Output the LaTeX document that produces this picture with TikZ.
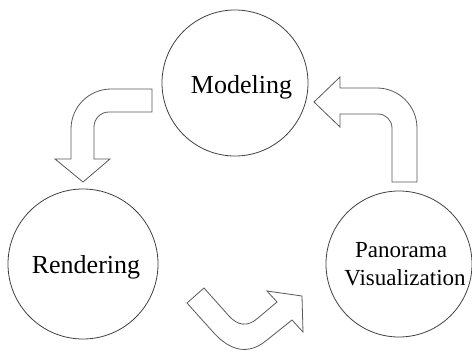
\documentclass[tikz,border=0pt]{standalone}
\usepackage{fontspec}
\setmainfont{Liberation Serif}
\begin{document}
\begin{tikzpicture}[x=1pt,y=-1pt,
  stage/.style={circle,draw=black!75,line width=0.8pt,inner sep=0pt},
  lbl/.style={anchor=base,inner sep=0pt,text=black},
  bigarrow/.style={draw=black!65,line width=0.8pt,fill=white,line join=miter}]
\useasboundingbox (0,0) rectangle (472,354);
% stages
\node[stage,minimum size=146pt] (model) at (235,83) {};
\node[stage,minimum size=150pt] (render) at (83,264) {};
\node[stage,minimum size=146pt] (pano) at (399,264) {};
\node[lbl,font=\fontsize{26}{30}\selectfont] (modelT) at (241.5,93) {Modeling};
\node[lbl,font=\fontsize{26}{30}\selectfont] (renderT) at (86,273) {Rendering};
\node[lbl,font=\fontsize{23}{28}\selectfont] (panoT1) at (401,257) {Panorama};
\node[lbl,font=\fontsize{23}{28}\selectfont] (panoT2) at (405,285) {Visualization};
% arrow Modeling -> Rendering
\draw[bigarrow] (152,89) -- (111,89) .. controls (89,89) and (71,107) .. (71,129)
  -- (71,159) -- (55,159) -- (83,182) -- (110,159) -- (94,159) -- (94,127)
  .. controls (94,118.7) and (100.7,112) .. (109,112) -- (152,112) -- cycle;
% arrow Panorama -> Modeling
\draw[bigarrow] (417,182) -- (417,128) .. controls (417,106) and (399,88) .. (377,88)
  -- (340,88) -- (340,77) -- (314,102) -- (340,127) -- (340,114) -- (378,114)
  .. controls (385.7,114) and (392,120.3) .. (392,128) -- (392,182) -- cycle;
% arrow Rendering -> Panorama
\draw[bigarrow] (204,288) -- (229,316) .. controls (238,326) and (248,327) .. (258,318)
  -- (277,302) -- (267,291) -- (302,296) -- (303,332) -- (292,320) -- (267,340)
  .. controls (249,355) and (231,352) .. (213,332) -- (187,303) -- cycle;
\end{tikzpicture}
\end{document}
